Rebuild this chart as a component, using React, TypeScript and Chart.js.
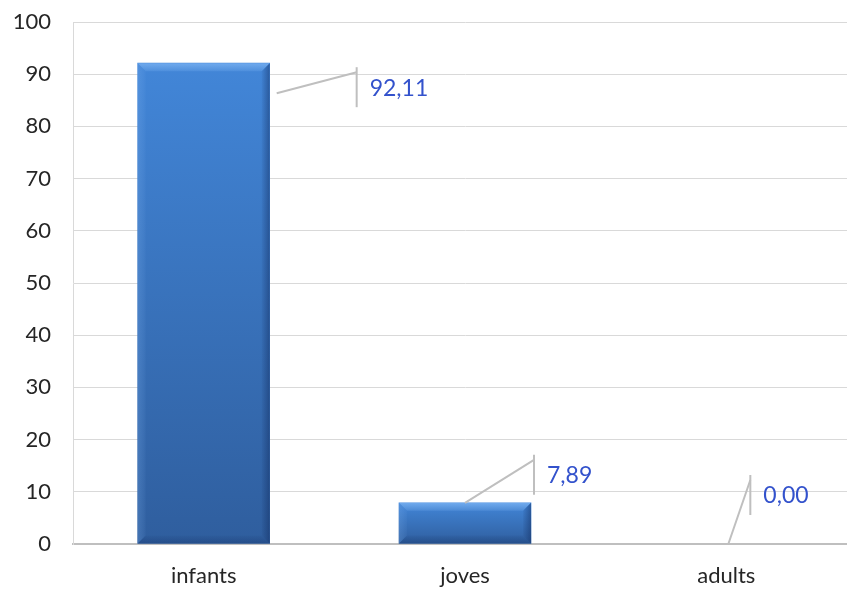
import React, { useEffect, useRef } from "react";
import { Chart, registerables } from "chart.js";

Chart.register(...registerables);

const categories = ["infants", "joves", "adults"];
const values = [92.11, 7.89, 0.0];
const valueLabels = ["92,11", "7,89", "0,00"];
const yMin = 0;
const yMax = 100;
const yStep = 10;

// callout geometry relative to bar top centre: start point (sx, sy), callout point (cx, cy)
const callouts = [
  { sx: 73, sy: 30, cx: 153, cy: 9 },
  { sx: 0, sy: 0, cx: 69, cy: -43 },
  { sx: 2, sy: 0, cx: 24, cy: -64 },
];

const FONT = "Lato, 'Open Sans', sans-serif";

const bevelPlugin = {
  id: "bevel",
  afterDatasetsDraw(chart: any) {
    const ctx = chart.ctx;
    const meta = chart.getDatasetMeta(0);
    meta.data.forEach((bar: any) => {
      const { x, y, base, width } = bar.getProps(["x", "y", "base", "width"], true);
      const h = base - y;
      if (h < 1) return;
      const l = x - width / 2;
      const r = x + width / 2;
      const b = Math.min(8, h / 2);
      ctx.save();
      // top bevel
      let g = ctx.createLinearGradient(0, y, 0, y + b);
      g.addColorStop(0, "rgba(150,200,255,0.55)");
      g.addColorStop(1, "rgba(150,200,255,0.15)");
      ctx.fillStyle = g;
      ctx.beginPath();
      ctx.moveTo(l, y);
      ctx.lineTo(r, y);
      ctx.lineTo(r - b, y + b);
      ctx.lineTo(l + b, y + b);
      ctx.closePath();
      ctx.fill();
      // left bevel
      g = ctx.createLinearGradient(l, 0, l + b, 0);
      g.addColorStop(0, "rgba(130,180,240,0.25)");
      g.addColorStop(1, "rgba(130,180,240,0.05)");
      ctx.fillStyle = g;
      ctx.beginPath();
      ctx.moveTo(l, y);
      ctx.lineTo(l + b, y + b);
      ctx.lineTo(l + b, base - b);
      ctx.lineTo(l, base);
      ctx.closePath();
      ctx.fill();
      // right bevel
      g = ctx.createLinearGradient(r - b, 0, r, 0);
      g.addColorStop(0, "rgba(15,40,90,0.05)");
      g.addColorStop(1, "rgba(15,40,90,0.45)");
      ctx.fillStyle = g;
      ctx.beginPath();
      ctx.moveTo(r, y);
      ctx.lineTo(r - b, y + b);
      ctx.lineTo(r - b, base - b);
      ctx.lineTo(r, base);
      ctx.closePath();
      ctx.fill();
      // bottom bevel
      g = ctx.createLinearGradient(0, base - b, 0, base);
      g.addColorStop(0, "rgba(15,40,90,0.05)");
      g.addColorStop(1, "rgba(15,40,90,0.3)");
      ctx.fillStyle = g;
      ctx.beginPath();
      ctx.moveTo(l, base);
      ctx.lineTo(l + b, base - b);
      ctx.lineTo(r - b, base - b);
      ctx.lineTo(r, base);
      ctx.closePath();
      ctx.fill();
      ctx.restore();
    });
  },
};

const calloutPlugin = {
  id: "callouts",
  afterDraw(chart: any) {
    const ctx = chart.ctx;
    const meta = chart.getDatasetMeta(0);
    meta.data.forEach((bar: any, i: number) => {
      const { x, y } = bar.getProps(["x", "y"], true);
      const c = callouts[i];
      const sx = x + c.sx;
      const sy = y + c.sy;
      const cx = x + c.cx;
      const cy = y + c.cy;
      ctx.save();
      ctx.strokeStyle = "#bfbfbf";
      ctx.lineWidth = 2;
      ctx.beginPath();
      ctx.moveTo(sx, sy);
      ctx.lineTo(cx, cy);
      ctx.stroke();
      ctx.beginPath();
      ctx.moveTo(cx, cy - 5);
      ctx.lineTo(cx, cy + 35);
      ctx.stroke();
      ctx.fillStyle = "#3352cc";
      ctx.font = `23px ${FONT}`;
      ctx.textAlign = "left";
      ctx.textBaseline = "middle";
      ctx.fillText(valueLabels[i], cx + 13, cy + 16);
      ctx.restore();
    });
  },
};

export default function App() {
  const ref = useRef<HTMLCanvasElement>(null);
  useEffect(() => {
    if (!ref.current) return;
    const chart = new Chart(ref.current, {
      type: "bar",
      data: {
        labels: categories,
        datasets: [
          {
            data: values,
            barThickness: 132,
            backgroundColor: (c: any) => {
              const ch = c.chart;
              const ys = ch.scales && ch.scales.y;
              if (!ys || c.raw == null) return "#3a74c4";
              const top = ys.getPixelForValue(c.raw);
              const bottom = ys.getPixelForValue(0);
              if (!isFinite(top) || !isFinite(bottom)) return "#3a74c4";
              if (bottom - top < 1) return "rgba(0,0,0,0)";
              const g = ch.ctx.createLinearGradient(0, top, 0, bottom);
              g.addColorStop(0, "#4286d8");
              g.addColorStop(1, "#2f5e9e");
              return g;
            },
            borderWidth: 0,
          },
        ],
      },
      options: {
        responsive: false,
        animation: false,
        layout: { padding: { top: 22, right: 0, left: 0, bottom: 0 } },
        plugins: { legend: { display: false }, tooltip: { enabled: false } },
        scales: {
          x: {
            offset: true,
            grid: { display: false, drawTicks: false },
            border: { display: true, color: "#bfbfbf", width: 2 },
            ticks: { color: "#262626", font: { size: 22, family: FONT }, padding: 19 },
            afterFit: (s: any) => {
              s.height = 45;
              s.paddingLeft = 0;
              s.paddingRight = 0;
            },
          },
          y: {
            min: yMin,
            max: yMax,
            grid: { color: "#d9d9d9", lineWidth: 1, drawTicks: false },
            border: { display: true, color: "#d9d9d9", width: 1 },
            ticks: { stepSize: yStep, color: "#262626", font: { size: 22, family: FONT }, padding: 22 },
            afterFit: (s: any) => {
              s.width = 73;
              s.paddingTop = 0;
              s.paddingBottom = 0;
            },
          },
        },
      },
      plugins: [bevelPlugin, calloutPlugin],
    });
    return () => chart.destroy();
  }, []);
  return (
    <div style={{ position: "absolute", left: 0, top: 0, width: 847, height: 589, overflow: "hidden", background: "#fff" }}>
      <canvas ref={ref} width={857} height={589} style={{ width: 857, height: 589, display: "block" }} />
    </div>
  );
}
